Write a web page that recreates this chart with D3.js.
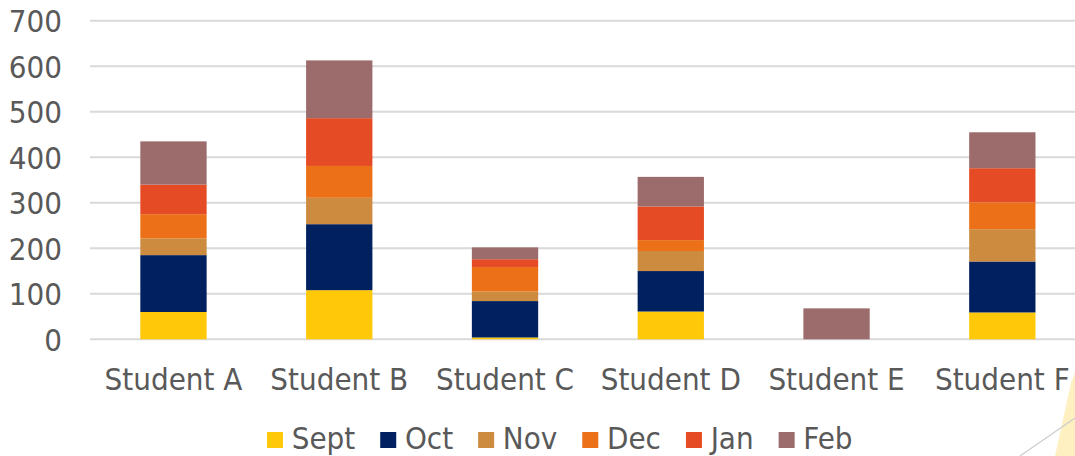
<!DOCTYPE html>
<html><head><meta charset="utf-8">
<script src="https://cdn.jsdelivr.net/npm/d3@7"></script>
<style>
html,body{margin:0;padding:0;background:#fff;}
svg{display:block;}
text{font-family:"DejaVu Sans Condensed","DejaVu Sans",sans-serif;font-stretch:condensed;fill:#595959;}
</style></head>
<body>
<svg id="chart" width="1075" height="456"></svg>
<script>
const categories = ["Student A","Student B","Student C","Student D","Student E","Student F"];
const months = ["Sept","Oct","Nov","Dec","Jan","Feb"];
const sept = [60, 108, 4, 61, 0, 59];
const oct  = [125, 145, 80, 89, 0, 112];
const nov  = [37, 58, 21, 44, 0, 71];
const dec  = [53, 70, 54, 24, 0, 59];
const jan  = [65, 105, 17, 74, 0, 75];
const feb  = [95, 127, 26, 65, 68, 79];
const yTicks = [0,100,200,300,400,500,600,700];
const colors = ["#FFC90A","#002060","#CC8B3F","#EB7017","#E54B24","#9C6B6B"];

const seriesVals = [sept, oct, nov, dec, jan, feb];
const rows = categories.map((c,i)=>{
  const r = {cat:c};
  months.forEach((m,j)=>{ r[m] = seriesVals[j][i]; });
  return r;
});

const svg = d3.select("#chart");
const x = d3.scaleBand().domain(categories).range([90.6, 1085.2]).paddingInner(0.6).paddingOuter(0.3);
const y = d3.scaleLinear().domain([0,700]).range([339.3, 20.8]);

// gridlines
svg.append("g").selectAll("line").data(yTicks).join("line")
  .attr("x1", 90).attr("x2", 1075)
  .attr("y1", d=>y(d)).attr("y2", d=>y(d))
  .attr("stroke", "#d9d9d9").attr("stroke-width", 2);

// y labels
const yAxis = d3.axisLeft(y).tickValues(yTicks).tickSize(0).tickPadding(0);
const gy = svg.append("g").attr("transform","translate(62,0)").call(yAxis);
gy.select(".domain").remove();
gy.selectAll("text").attr("fill","#595959").style("font-size","31px").attr("dy","0.36em");

// stacks
const stack = d3.stack().keys(months)(rows);
svg.append("g").selectAll("g").data(stack).join("g")
  .attr("fill", (d,i)=>colors[i])
  .selectAll("rect").data(d=>d).join("rect")
  .attr("x", d=>x(d.data.cat))
  .attr("width", x.bandwidth())
  .attr("y", d=>y(d[1]))
  .attr("height", d=>Math.max(0, y(d[0]) - y(d[1])));

// x labels
const xAxis = d3.axisBottom(x).tickSize(0).tickPadding(0);
const gx = svg.append("g").attr("transform","translate(0,368)").call(xAxis);
gx.select(".domain").remove();
gx.selectAll("text").attr("fill","#595959").style("font-size","31px").attr("dy","0.72em");

// legend
const legend = svg.append("g");
let lx = 267;
months.forEach((m,i)=>{
  legend.append("rect").attr("x", lx).attr("y", 432).attr("width", 16).attr("height", 16).attr("fill", colors[i]);
  const t = legend.append("text").attr("x", lx+24.7).attr("y", 448.5).style("font-size","31px").text(m);
  const w = t.node().getComputedTextLength();
  lx = lx + 24.7 + w + 25;
});

// decoration bottom-right
svg.append("path").attr("d","M1071,383 L1075,372 L1075,456 L1055,456 Z").attr("fill","#FFF0C2");
svg.append("line").attr("x1",1020).attr("y1",456).attr("x2",1075).attr("y2",418).attr("stroke","#cccccc").attr("stroke-width",1.2);
</script>
</body></html>
